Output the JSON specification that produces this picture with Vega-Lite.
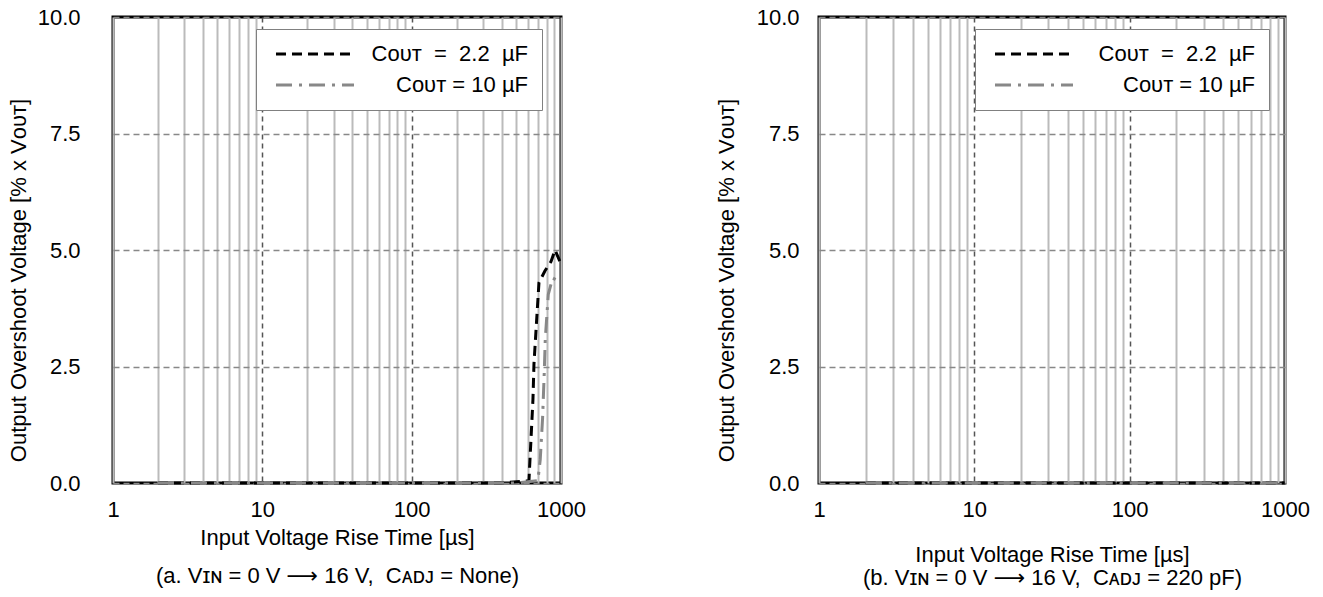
{
  "$schema": "https://vega.github.io/schema/vega-lite/v6.json",
  "padding": {"left": 5, "top": 4, "right": 5, "bottom": 5},
  "background": "white",
  "config": {
    "font": "Liberation Sans, Arial, DejaVu Sans, sans-serif",
    "view": {"stroke": "black", "strokeWidth": 3},
    "axis": {
      "labelFont": "Liberation Sans, DejaVu Sans",
      "titleFont": "Liberation Sans, DejaVu Sans",
      "labelFontSize": 22,
      "titleFontSize": 22,
      "labelColor": "black",
      "titleColor": "black",
      "titleFontWeight": "normal",
      "ticks": false,
      "domain": false
    },
    "legend": {
      "labelFont": "Liberation Sans, DejaVu Sans",
      "labelFontSize": 22,
      "labelColor": "black",
      "labelLimit": 400,
      "title": null,
      "orient": "none",
      "padding": 14,
      "strokeColor": "#808080",
      "fillColor": "white",
      "symbolType": "M-0.77,0L11.23,0",
      "symbolSize": 169,
      "symbolStrokeWidth": 3,
      "symbolFillColor": "transparent",
      "rowPadding": 9,
      "labelAlign": "right"
    }
  },
  "data": {
    "values": [
      {"panel": "a", "cap": "2.2", "t": 2, "v": 0},
      {"panel": "a", "cap": "2.2", "t": 5, "v": 0},
      {"panel": "a", "cap": "2.2", "t": 10, "v": 0},
      {"panel": "a", "cap": "2.2", "t": 20, "v": 0},
      {"panel": "a", "cap": "2.2", "t": 50, "v": 0},
      {"panel": "a", "cap": "2.2", "t": 100, "v": 0},
      {"panel": "a", "cap": "2.2", "t": 200, "v": 0},
      {"panel": "a", "cap": "2.2", "t": 400, "v": 0},
      {"panel": "a", "cap": "2.2", "t": 610, "v": 0.05},
      {"panel": "a", "cap": "2.2", "t": 649, "v": 1.8},
      {"panel": "a", "cap": "2.2", "t": 659, "v": 2.55},
      {"panel": "a", "cap": "2.2", "t": 690, "v": 3.6},
      {"panel": "a", "cap": "2.2", "t": 712, "v": 4.3},
      {"panel": "a", "cap": "2.2", "t": 780, "v": 4.55},
      {"panel": "a", "cap": "2.2", "t": 857, "v": 4.75},
      {"panel": "a", "cap": "2.2", "t": 912, "v": 5.0},
      {"panel": "a", "cap": "2.2", "t": 1000, "v": 4.7},
      {"panel": "a", "cap": "10", "t": 2, "v": 0},
      {"panel": "a", "cap": "10", "t": 5, "v": 0},
      {"panel": "a", "cap": "10", "t": 10, "v": 0},
      {"panel": "a", "cap": "10", "t": 20, "v": 0},
      {"panel": "a", "cap": "10", "t": 50, "v": 0},
      {"panel": "a", "cap": "10", "t": 100, "v": 0},
      {"panel": "a", "cap": "10", "t": 200, "v": 0},
      {"panel": "a", "cap": "10", "t": 500, "v": 0},
      {"panel": "a", "cap": "10", "t": 700, "v": 0.05},
      {"panel": "a", "cap": "10", "t": 726, "v": 0.5},
      {"panel": "a", "cap": "10", "t": 753, "v": 1.4},
      {"panel": "a", "cap": "10", "t": 772, "v": 2.35},
      {"panel": "a", "cap": "10", "t": 785, "v": 3.1},
      {"panel": "a", "cap": "10", "t": 822, "v": 4.05},
      {"panel": "a", "cap": "10", "t": 880, "v": 4.4},
      {"panel": "a", "cap": "10", "t": 1000, "v": 4.3},
      {"panel": "b", "cap": "2.2", "t": 2, "v": 0},
      {"panel": "b", "cap": "2.2", "t": 10, "v": 0},
      {"panel": "b", "cap": "2.2", "t": 100, "v": 0},
      {"panel": "b", "cap": "2.2", "t": 1000, "v": 0},
      {"panel": "b", "cap": "10", "t": 2, "v": 0},
      {"panel": "b", "cap": "10", "t": 10, "v": 0},
      {"panel": "b", "cap": "10", "t": 100, "v": 0},
      {"panel": "b", "cap": "10", "t": 1000, "v": 0}
    ]
  },
  "spacing": 126,
  "resolve": {
    "scale": {"color": "independent", "strokeDash": "independent"},
    "legend": {"color": "independent", "strokeDash": "independent"}
  },
  "hconcat": [
    {
      "width": 448,
      "height": 466,
      "transform": [{"filter": "datum.panel === 'a'"}],
      "mark": {"type": "line", "strokeWidth": 3, "clip": false},
      "encoding": {
        "x": {
          "field": "t", "type": "quantitative",
          "scale": {"type": "log", "domain": [1, 1000]},
          "axis": {
            "values": [1,2,3,4,5,6,7,8,9,10,20,30,40,50,60,70,80,90,100,200,300,400,500,600,700,800,900,1000],
            "labelExpr": "indexof([1,10,100,1000], datum.value) >= 0 ? format(datum.value, 'd') : ''",
            "labelPadding": 16,
            "labelFlush": false,
            "labelOverlap": false,
            "grid": true,
            "gridColor": {"condition": {"test": "datum.value === 10 || datum.value === 100", "value": "#555555"}, "value": "#bbbbbb"},
            "gridDash": {"condition": {"test": "datum.value === 10 || datum.value === 100", "value": [5, 4]}, "value": []},
            "gridWidth": {"condition": {"test": "datum.value === 10 || datum.value === 100", "value": 1.5}, "value": 2},
            "title": ["Input Voltage Rise Time [µs]", "(a. Vɪɴ = 0 V ⟶ 16 V,\u00a0 Cᴀᴅᴊ = None)"],
            "titlePadding": 7,
            "titleLineHeight": 38
          }
        },
        "y": {
          "field": "v", "type": "quantitative",
          "scale": {"domain": [0, 10], "nice": false, "zero": false},
          "axis": {
            "values": [0, 2.5, 5, 7.5, 10],
            "format": ".1f",
            "labelPadding": 33,
            "grid": true,
            "gridColor": "#888888",
            "gridDash": [6, 4],
            "gridWidth": 1.5,
            "title": "Output Overshoot Voltage [% x Vᴏᴜᴛ]",
            "titleX": -95,
            "titleY": 263,
            "titleBaseline": "middle",
            "titleAngle": -90
          }
        },
        "color": {
          "field": "cap", "type": "nominal",
          "scale": {"domain": ["2.2", "10"], "range": ["#000000", "#888888"]},
          "legend": {
            "legendX": 143,
            "legendY": 12,
            "labelOffset": 236,
            "labelExpr": "datum.value === '2.2' ? 'Cᴏᴜᴛ\u00a0 =\u00a0 2.2\u00a0 µF' : 'Cᴏᴜᴛ = 10 µF'"
          }
        },
        "strokeDash": {
          "field": "cap", "type": "nominal",
          "scale": {"domain": ["2.2", "10"], "range": [[10, 6], [16, 7, 3, 7]]},
          "legend": {
            "legendX": 143,
            "legendY": 12,
            "labelOffset": 236,
            "labelExpr": "datum.value === '2.2' ? 'Cᴏᴜᴛ\u00a0 =\u00a0 2.2\u00a0 µF' : 'Cᴏᴜᴛ = 10 µF'"
          }
        }
      }
    },
    {
      "width": 466,
      "height": 466,
      "transform": [{"filter": "datum.panel === 'b'"}],
      "mark": {"type": "line", "strokeWidth": 3, "clip": false},
      "encoding": {
        "x": {
          "field": "t", "type": "quantitative",
          "scale": {"type": "log", "domain": [1, 1000]},
          "axis": {
            "values": [1,2,3,4,5,6,7,8,9,10,20,30,40,50,60,70,80,90,100,200,300,400,500,600,700,800,900,1000],
            "labelExpr": "indexof([1,10,100,1000], datum.value) >= 0 ? format(datum.value, 'd') : ''",
            "labelPadding": 16,
            "labelFlush": false,
            "labelOverlap": false,
            "grid": true,
            "gridColor": {"condition": {"test": "datum.value === 10 || datum.value === 100", "value": "#555555"}, "value": "#bbbbbb"},
            "gridDash": {"condition": {"test": "datum.value === 10 || datum.value === 100", "value": [5, 4]}, "value": []},
            "gridWidth": {"condition": {"test": "datum.value === 10 || datum.value === 100", "value": 1.5}, "value": 2},
            "title": ["Input Voltage Rise Time [µs]", "(b. Vɪɴ = 0 V ⟶ 16 V,\u00a0 Cᴀᴅᴊ = 220 pF)"],
            "titlePadding": 24,
            "titleLineHeight": 23
          }
        },
        "y": {
          "field": "v", "type": "quantitative",
          "scale": {"domain": [0, 10], "nice": false, "zero": false},
          "axis": {
            "values": [0, 2.5, 5, 7.5, 10],
            "format": ".1f",
            "labelPadding": 20,
            "grid": true,
            "gridColor": "#888888",
            "gridDash": [6, 4],
            "gridWidth": 1.5,
            "title": "Output Overshoot Voltage [% x Vᴏᴜᴛ]",
            "titleX": -93,
            "titleY": 263,
            "titleBaseline": "middle",
            "titleAngle": -90
          }
        },
        "color": {
          "field": "cap", "type": "nominal",
          "scale": {"domain": ["2.2", "10"], "range": ["#000000", "#888888"]},
          "legend": {
            "legendX": 156,
            "legendY": 12,
            "labelOffset": 244,
            "labelExpr": "datum.value === '2.2' ? 'Cᴏᴜᴛ\u00a0 =\u00a0 2.2\u00a0 µF' : 'Cᴏᴜᴛ = 10 µF'"
          }
        },
        "strokeDash": {
          "field": "cap", "type": "nominal",
          "scale": {"domain": ["2.2", "10"], "range": [[10, 6], [16, 7, 3, 7]]},
          "legend": {
            "legendX": 156,
            "legendY": 12,
            "labelOffset": 244,
            "labelExpr": "datum.value === '2.2' ? 'Cᴏᴜᴛ\u00a0 =\u00a0 2.2\u00a0 µF' : 'Cᴏᴜᴛ = 10 µF'"
          }
        }
      }
    }
  ]
}
